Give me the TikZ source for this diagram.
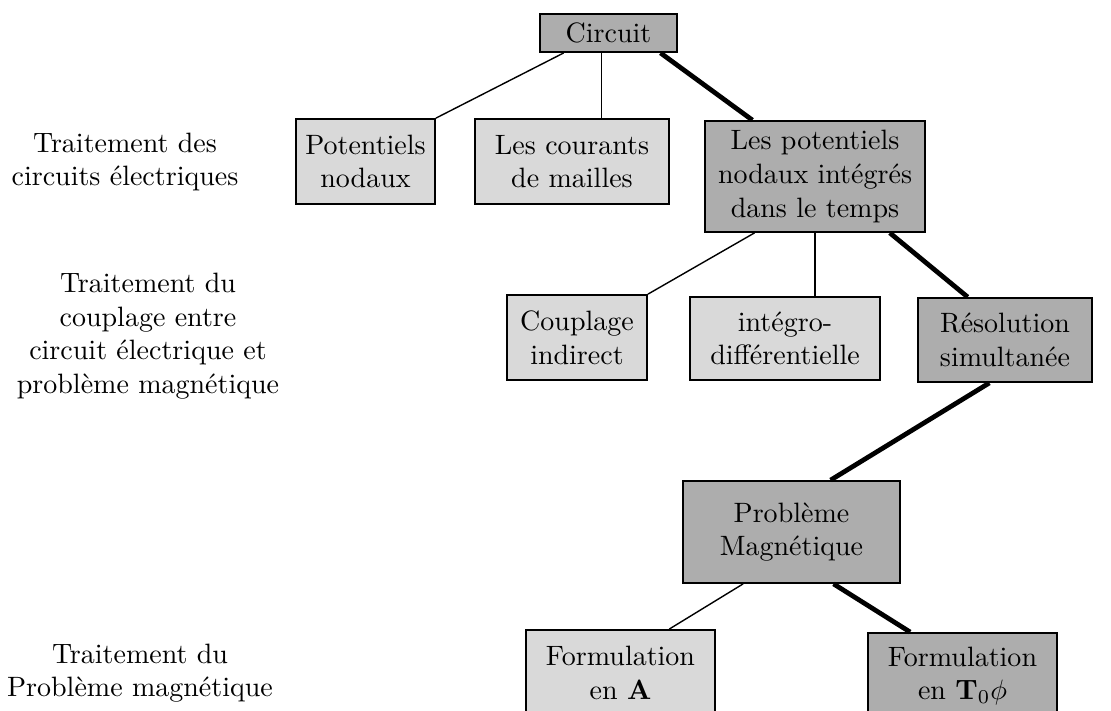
\documentclass[tikz,border=0pt]{standalone}
\usepackage{amsmath}
\begin{document}
\begin{tikzpicture}[x=0.357pt,y=0.357pt,yscale=-1,xscale=1,
  box/.style={draw,line width=0.65pt,inner sep=0pt,align=center},
  lightbox/.style={box,fill=gray!30},
  darkbox/.style={box,fill=gray!64},
  thinlink/.style={line width=0.5pt},
  thicklink/.style={line width=1.7pt}]
\useasboundingbox (0,0) rectangle (1111,711);
\clip (0,0) rectangle (1111,711);

%Shape: Rect circuit
\node (circuit) at (608.5,33) [darkbox,minimum width=48.9pt,minimum height=13.6pt] {Circuit};

%Shape: Rect row 1
\node (pot) at (365.5,161.5) [lightbox,minimum width=49.6pt,minimum height=30.3pt] {Potentiels\\nodaux};
\node (courants) at (572,161.5) [lightbox,minimum width=69.3pt,minimum height=30.3pt] {Les courants\\de mailles};
\node (potint) at (815,176.5) [darkbox,minimum width=78.5pt,minimum height=39.6pt] {Les potentiels\\nodaux intégrés\\dans le temps};

%Shape: Rect row 2
\node (couplage) at (577,337.5) [lightbox,minimum width=50pt,minimum height=30.3pt] {Couplage\\indirect};
\node (integro) at (785,338.5) [lightbox,minimum width=67.8pt,minimum height=29.6pt] {intégro-\\différentielle};
\node (resol) at (1005,340) [darkbox,minimum width=62.1pt,minimum height=30pt] {Résolution\\simultanée};

%Shape: Rect row 3
\node (magn) at (791.5,532) [darkbox,minimum width=77.5pt,minimum height=36.4pt] {Problème\\Magnétique};

%Shape: Rect row 4
\node (formA) at (620.5,673) [lightbox,minimum width=67.5pt,minimum height=30.7pt] {Formulation\\en $\mathbf{A}$};
\node (formT) at (962.5,676) [darkbox,minimum width=67.5pt,minimum height=30.7pt] {Formulation\\en $\mathbf{T}_0\phi$};

%Straight Lines
\draw [thinlink] (circuit.204) -- (pot.north east);
\draw [thinlink] (circuit.251) -- (circuit.251 |- courants.north);
\draw [thicklink] (circuit.339) -- (potint.138.2);
\draw [thinlink] (potint.223.2) -- (couplage.north east);
\draw [thinlink] (potint.south) -- (potint.south |- integro.north);
\draw [thicklink] (potint.323.9) -- (resol.131.4);
\draw [thicklink] (resol.250.3) -- (magn.53);
\draw [thinlink] (magn.227.6) -- (formA.42.2);
\draw [thicklink] (magn.309.1) -- (formT.140.7);

% Text Node
\node (lvl1) at (125,162) [align=center] {Traitement des\\circuits électriques};
\node (lvl2) at (148,336) [align=center] {Traitement du\\couplage entre\\circuit électrique et\\problème magnétique};
\node (lvl3) at (140,673) [align=center] {Traitement du\\Problème magnétique};

\end{tikzpicture}
\end{document}
